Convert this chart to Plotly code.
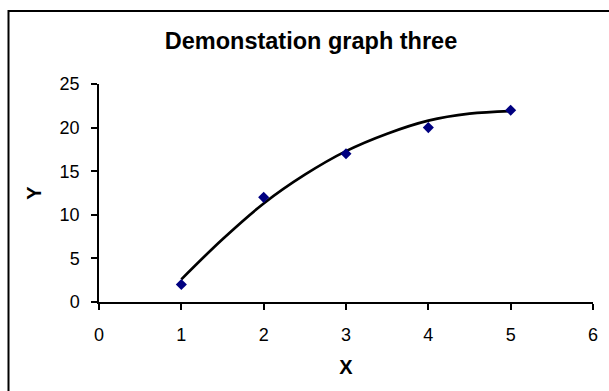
import plotly.graph_objects as go

# measured data points (blue diamonds)
x_points = [1, 2, 3, 4, 5]
y_points = [2, 12, 17, 20, 22]

# trend curve
curve_x = [1, 1.5, 2, 2.5, 3, 3.5, 4, 4.5, 5]
curve_y = [2.6, 7.2, 11.3, 14.6, 17.3, 19.3, 20.8, 21.6, 21.9]

x_ticks = [0, 1, 2, 3, 4, 5, 6]
y_ticks = [0, 5, 10, 15, 20, 25]

FONT = "Arial, Liberation Sans, sans-serif"
W, H = 609, 391
L, R, T, B = 99, 16, 84, 89

fig = go.Figure()
fig.add_trace(
    go.Scatter(
        x=curve_x,
        y=curve_y,
        mode="lines",
        line=dict(color="black", width=2.7, shape="spline"),
        hoverinfo="skip",
        showlegend=False,
    )
)
fig.add_trace(
    go.Scatter(
        x=x_points,
        y=y_points,
        mode="markers",
        marker=dict(symbol="diamond", size=8.5, color="#000080"),
        showlegend=False,
    )
)

axis_common = dict(
    showgrid=False,
    zeroline=False,
    showline=True,
    linecolor="black",
    linewidth=1.5,
    ticks="outside",
    ticklen=6,
    tickwidth=1.5,
    tickcolor="black",
    tickfont=dict(family=FONT, size=18, color="black"),
)

fig.update_xaxes(
    range=[0, 6],
    tickvals=x_ticks,
    ticklabelstandoff=10,
    title=dict(text="<b>X</b>", font=dict(family=FONT, size=20, color="black"), standoff=16),
    **axis_common,
)
fig.update_yaxes(
    range=[0, 25],
    tickvals=y_ticks,
    ticklabelstandoff=8,
    title=dict(text="<b>Y</b>", font=dict(family=FONT, size=20, color="black"), standoff=13),
    **axis_common,
)

# chart frame (only top/left edges fall inside the picture)
pw, ph = W - L - R, H - T - B
fig.add_shape(
    type="rect",
    xref="paper",
    yref="paper",
    x0=(8.5 - L) / pw,
    x1=(W + 20 - L) / pw,
    y0=-(H + 20 - (H - B)) / ph,
    y1=(H - B - 11) / ph,
    line=dict(color="black", width=2),
    fillcolor="rgba(0,0,0,0)",
)

fig.update_layout(
    width=W,
    height=H,
    margin=dict(l=L, r=R, t=T, b=B),
    paper_bgcolor="white",
    plot_bgcolor="white",
    title=dict(
        text="<b>Demonstation graph three</b>",
        font=dict(family=FONT, size=23.5, color="black"),
        x=311 / W,
        xanchor="center",
        xref="container",
        y=1 - 41 / H,
        yanchor="middle",
        yref="container",
    ),
)

# drop the page's default body margin so the figure sits at (0, 0)
fig.write_html(
    "out.html",
    config={"displayModeBar": False},
    post_script="document.body.style.margin='0';",
)
